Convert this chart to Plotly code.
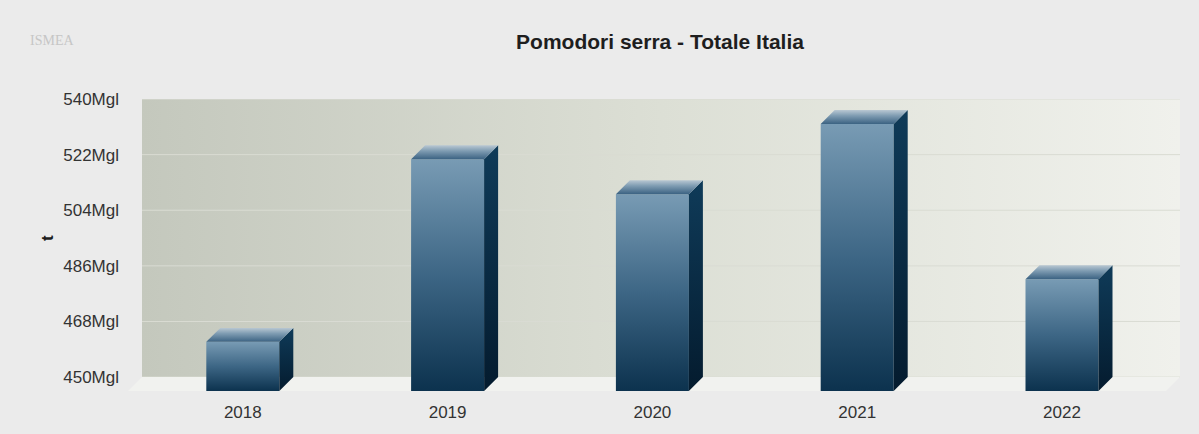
import plotly.graph_objects as go

# Production of greenhouse tomatoes, Italy total (thousand tonnes)
years = ["2018", "2019", "2020", "2021", "2022"]
values = [465.9, 525.0, 513.7, 536.4, 486.2]
tick_vals = [450, 468, 486, 504, 522, 540]
tick_text = ["450Mgl", "468Mgl", "486Mgl", "504Mgl", "522Mgl", "540Mgl"]

W, H = 1199, 434
ML, MR, MT, MB = 128, 19, 99, 41
plot_w = W - ML - MR
plot_h = H - MT - MB

# 3D geometry (pixels)
depth_px = 14
cat_px = 204.8          # spacing between category centres
first_px = 242.8        # centre of the first column front face
bar_px = 73             # column width

y_lo, y_hi = tick_vals[0], tick_vals[-1]
ppu = (plot_h - depth_px) / (y_hi - y_lo)   # pixels per unit on y
dy = depth_px / ppu
dx = depth_px / cat_px
bw = bar_px / cat_px
y0 = y_lo - dy
x_rng = [(ML - first_px) / cat_px, (W - MR - first_px) / cat_px]
wall_l, wall_r = x_rng[0] + dx, x_rng[1]

fig = go.Figure()

# back wall with horizontal shading
fig.add_trace(go.Scatter(
    x=[wall_l, wall_r, wall_r, wall_l, wall_l],
    y=[y_lo, y_lo, y_hi, y_hi, y_lo],
    fill="toself", mode="lines", line=dict(width=0),
    fillgradient=dict(type="horizontal",
                      colorscale=[[0, "#c4c8bd"], [0.5, "#dcdfd5"], [1, "#f0f1ec"]]),
    hoverinfo="skip", showlegend=False))

# grid lines on the wall
for t in tick_vals:
    fig.add_trace(go.Scatter(
        x=[wall_l, wall_r], y=[t, t], mode="lines",
        line=dict(color="#d9dcd3", width=1),
        hoverinfo="skip", showlegend=False))

# floor
fig.add_trace(go.Scatter(
    x=[x_rng[0], wall_r - dx, wall_r, wall_l, x_rng[0]],
    y=[y0, y0, y_lo, y_lo, y0],
    fill="toself", mode="lines", line=dict(width=0),
    fillcolor="#f1f2ef", hoverinfo="skip", showlegend=False))

# columns: front, side and top faces
for i, v in enumerate(values):
    xl, xr = i - bw / 2, i + bw / 2
    fig.add_trace(go.Scatter(
        x=[xl, xr, xr, xl, xl], y=[y0, y0, v - dy, v - dy, y0],
        fill="toself", mode="lines", line=dict(width=0),
        fillgradient=dict(type="vertical",
                          colorscale=[[0, "#0c324e"], [0.5, "#3d6685"], [1, "#789bb4"]]),
        hoverinfo="skip", showlegend=False))
    fig.add_trace(go.Scatter(
        x=[xr, xr + dx, xr + dx, xr, xr], y=[y0, y_lo, v, v - dy, y0],
        fill="toself", mode="lines", line=dict(width=0),
        fillgradient=dict(type="vertical",
                          colorscale=[[0, "#041b2e"], [1, "#0f3b59"]]),
        hoverinfo="skip", showlegend=False))
    fig.add_trace(go.Scatter(
        x=[xl, xr, xr + dx, xl + dx, xl], y=[v - dy, v - dy, v, v, v - dy],
        fill="toself", mode="lines", line=dict(width=0),
        fillgradient=dict(type="vertical",
                          colorscale=[[0, "#3b6282"], [0.6, "#7f9cb2"], [1, "#b8c7d2"]]),
        hoverinfo="skip", showlegend=False))

fig.update_layout(
    width=W, height=H,
    margin=dict(l=ML, r=MR, t=MT, b=MB),
    paper_bgcolor="#ebebeb", plot_bgcolor="rgba(0,0,0,0)",
    font=dict(family="Liberation Sans, Arial, sans-serif", color="#333333"),
    title=dict(text="<b>Pomodori serra - Totale Italia</b>",
               x=660 / W, xanchor="center", y=1 - 42 / H, yanchor="middle",
               font=dict(size=21, color="#1e1e1e")),
    xaxis=dict(range=x_rng, tickvals=list(range(len(years))), ticktext=years,
               showgrid=False, zeroline=False, showline=False,
               ticks="", ticklabelstandoff=9, tickfont=dict(size=17, color="#333333"),
               fixedrange=True),
    yaxis=dict(range=[y0, y_hi], tickvals=tick_vals, ticktext=tick_text,
               showgrid=False, zeroline=False, showline=False,
               ticks="", ticklabelstandoff=8, tickfont=dict(size=17, color="#333333"),
               fixedrange=True),
    showlegend=False,
)

# axis name
fig.add_annotation(text="<b>t</b>", xref="paper", yref="paper",
                   x=(47 - ML) / plot_w, y=(H - MB - 239) / plot_h,
                   xanchor="center", yanchor="middle",
                   textangle=-90, showarrow=False,
                   font=dict(family="Liberation Sans, Arial, sans-serif",
                             size=17, color="#1e1e1e"))

# logo text
fig.add_annotation(text="ISMEA", xref="paper", yref="paper",
                   x=(52 - ML) / plot_w, y=(H - MB - 40) / plot_h,
                   xanchor="center", yanchor="middle", showarrow=False,
                   font=dict(family="Liberation Serif, serif", size=14, color="#c6c6c6"))

fig.write_html("out.html")
